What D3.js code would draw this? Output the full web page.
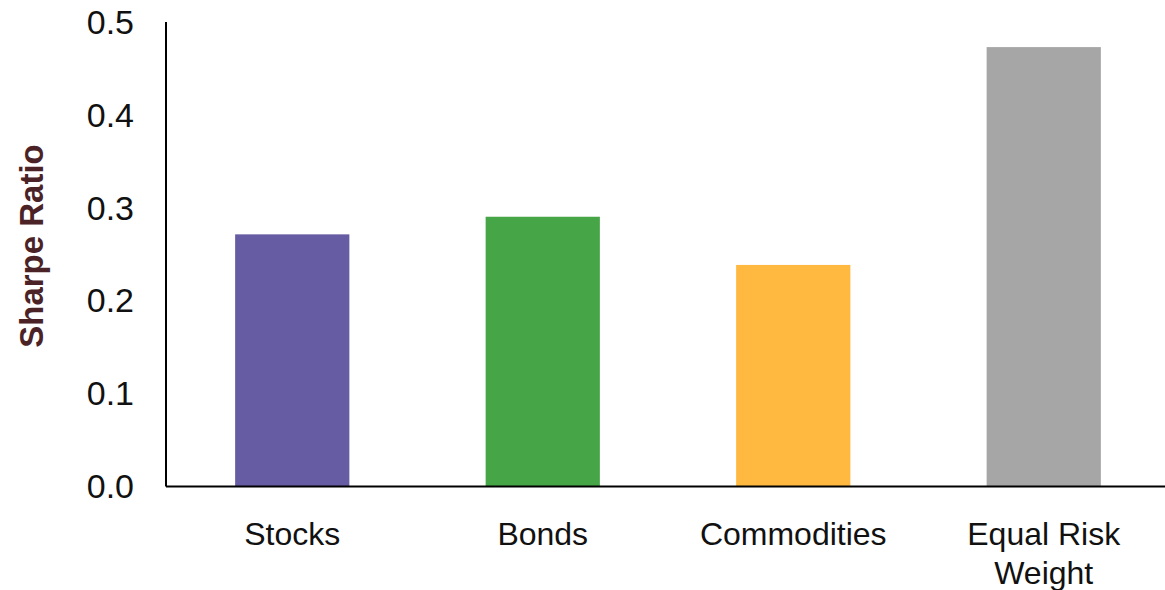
<!DOCTYPE html>
<html><head><meta charset="utf-8">
<script src="https://cdn.jsdelivr.net/npm/d3@7"></script>
<style>body{margin:0;background:#fff}svg{display:block}</style>
</head><body>
<script>
const categories = ["Stocks", "Bonds", "Commodities", "Equal Risk Weight"];
const labelLines = [["Stocks"], ["Bonds"], ["Commodities"], ["Equal Risk", "Weight"]];
const values = [0.272, 0.291, 0.239, 0.474];
const colors = ["#665CA4", "#46A547", "#FFB940", "#A6A6A6"];
const yTicks = [0, 0.1, 0.2, 0.3, 0.4, 0.5];
const yTitle = "Sharpe Ratio";

const W = 1165, H = 590;
const m = {left: 166, right: 0, top: 23, bottom: 103};
const svg = d3.select("body").append("svg").attr("width", W).attr("height", H);

const x = d3.scaleBand().domain(categories).range([m.left + 1, m.left + 1003]).paddingInner(0.544).paddingOuter(0.272);
const y = d3.scaleLinear().domain([0, 0.5]).range([H - m.bottom - 0.5, m.top]);

svg.selectAll("rect.bar").data(values).join("rect")
  .attr("class", "bar")
  .attr("x", (d, i) => x(categories[i]))
  .attr("width", x.bandwidth())
  .attr("y", d => y(d))
  .attr("height", d => y(0) - y(d))
  .attr("fill", (d, i) => colors[i]);

const yAxis = svg.append("g").attr("transform", `translate(${m.left},0)`)
  .call(d3.axisLeft(y).tickValues(yTicks).tickFormat(d3.format(".1f")).tickSize(0).tickPadding(32));
yAxis.select(".domain").attr("stroke", "#000").attr("stroke-width", 2).attr("d", `M0,${m.top - 1}V${y(0)}`);
yAxis.selectAll("text").attr("font-family", "Liberation Sans, Arial, sans-serif").attr("font-size", 34).attr("fill", "#111");

const xAxis = svg.append("g").attr("transform", `translate(0,${y(0)})`)
  .call(d3.axisBottom(x).tickSize(0).tickFormat(""));
xAxis.select(".domain").attr("stroke", "#000").attr("stroke-width", 2).attr("d", `M${m.left},0H${W}`);

const lbl = svg.append("g").selectAll("text").data(categories).join("text")
  .attr("x", d => x(d) + x.bandwidth() / 2)
  .attr("y", 545)
  .attr("text-anchor", "middle")
  .attr("font-family", "Liberation Sans, Arial, sans-serif")
  .attr("font-size", 32)
  .attr("fill", "#111");
lbl.each(function(d, i) {
  d3.select(this).selectAll("tspan").data(labelLines[i]).join("tspan")
    .attr("x", x(d) + x.bandwidth() / 2)
    .attr("dy", (t, j) => j === 0 ? 0 : 39)
    .text(t => t);
});

svg.append("text")
  .attr("transform", `translate(43,246) rotate(-90)`)
  .attr("text-anchor", "middle")
  .attr("font-family", "Liberation Sans, Arial, sans-serif")
  .attr("font-weight", "bold")
  .attr("font-size", 33)
  .attr("fill", "#4B2327")
  .text(yTitle);
</script>
</body></html>
